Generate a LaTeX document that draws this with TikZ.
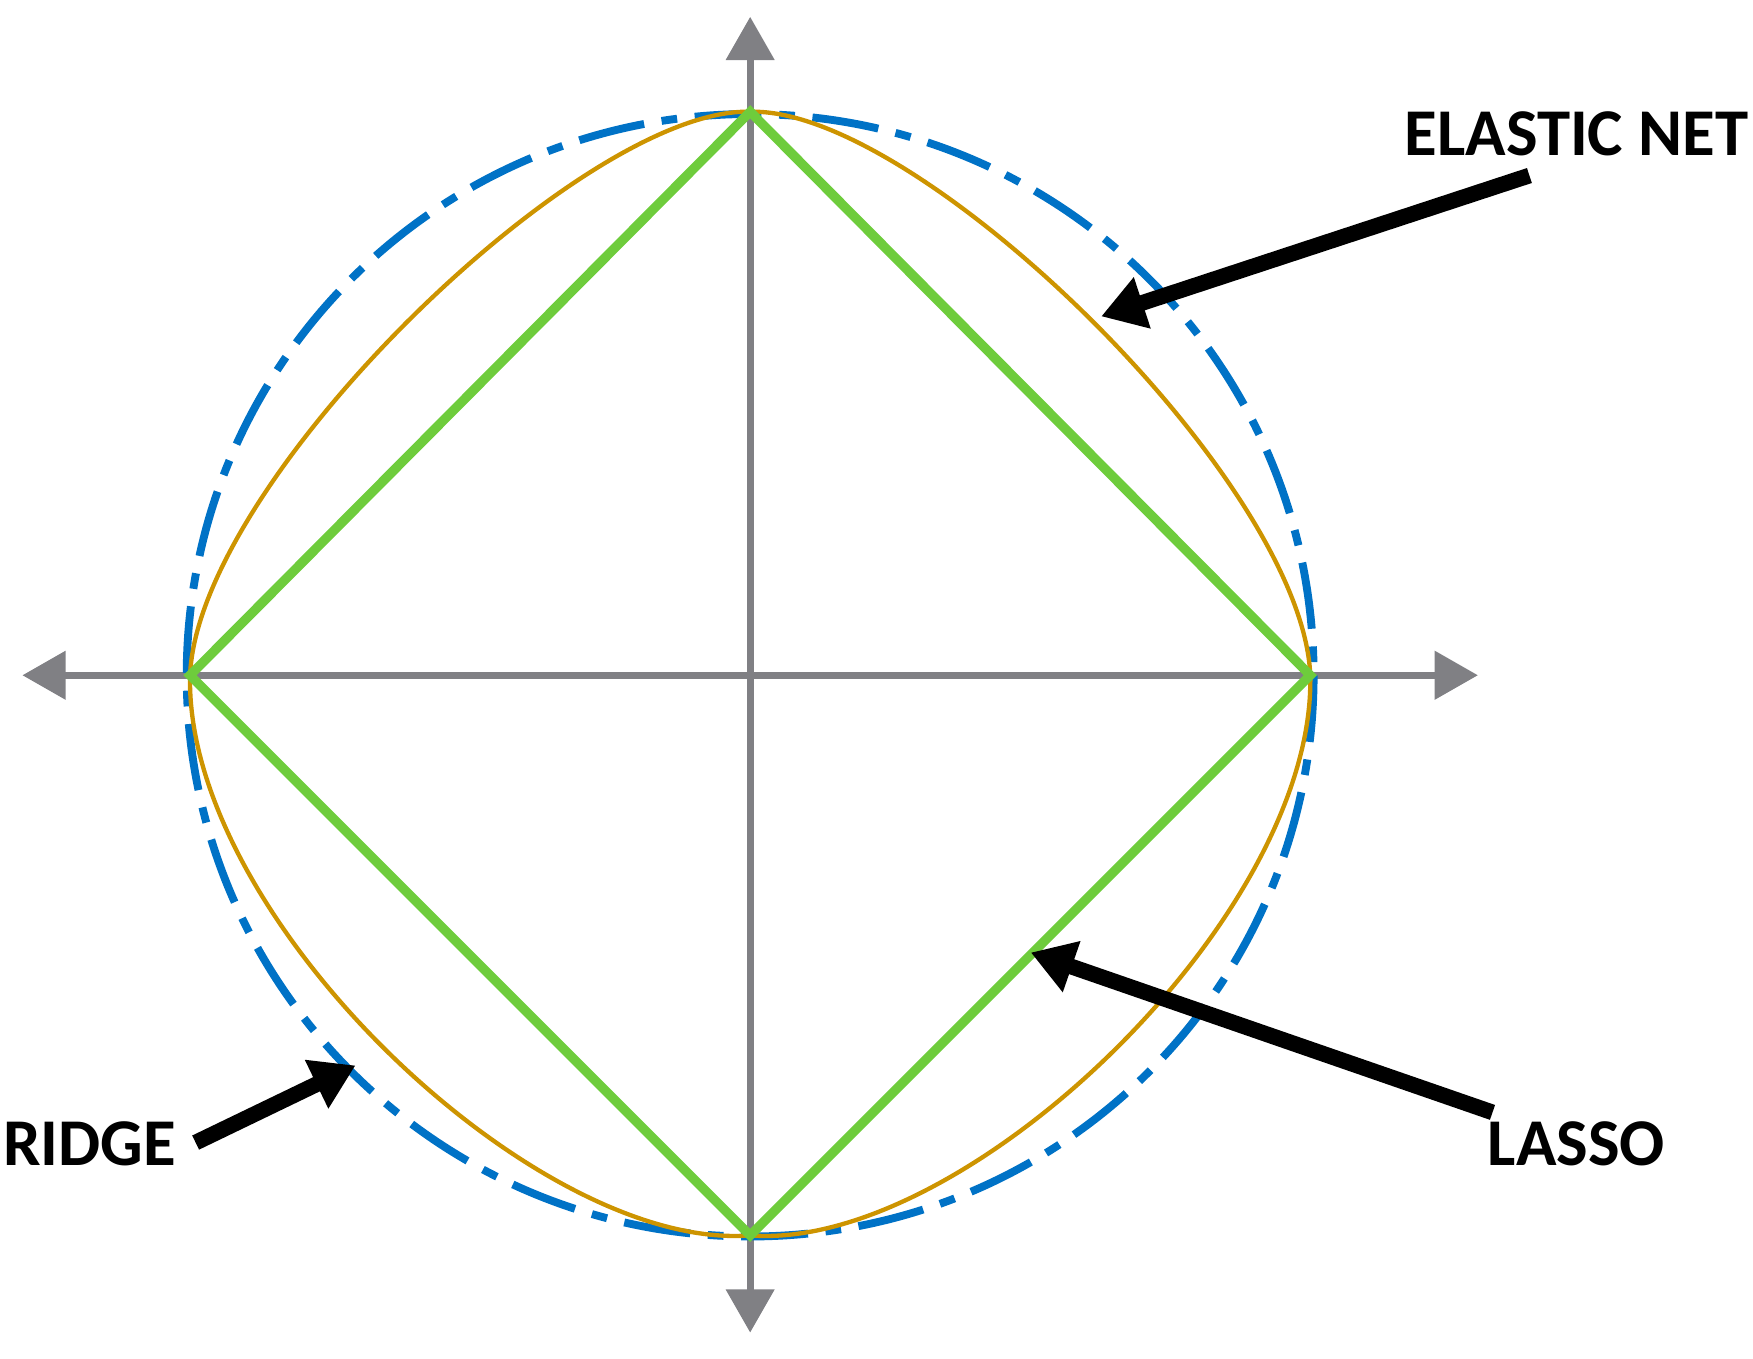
\documentclass[tikz,border=0pt]{standalone}
\usepackage{fontspec}
\setmainfont{Carlito}
\usetikzlibrary{arrows.meta}
\definecolor{axgray}{RGB}{128,128,132}
\definecolor{ridgeblue}{RGB}{0,114,198}
\definecolor{lassogreen}{RGB}{110,204,60}
\definecolor{enorange}{RGB}{205,148,0}
\tikzset{
 axis/.style={axgray,line width=1.8pt,-{Triangle[length=11pt,width=12pt]}},
 ridgeline/.style={ridgeblue,line width=2pt,dash pattern=on 17pt off 4.5pt on 4pt off 4.5pt},
 lassoline/.style={lassogreen,line width=2.4pt,line join=miter},
 enline/.style={enorange,line width=1.1pt},
 pointer/.style={black,line width=4pt,-{Triangle[length=11pt,width=13pt]}},
 lbl/.style={font=\bfseries\fontsize{17pt}{20pt}\selectfont,inner sep=0pt}
}
\begin{document}
\begin{tikzpicture}[x=0.01cm,y=-0.01cm]
\useasboundingbox (0,0) rectangle (1568,1215);
\coordinate (O) at (671,604);
\coordinate (T) at (671,100);
\coordinate (R) at (1172,604);
\coordinate (B) at (671,1105);
\coordinate (L) at (170,604);
\coordinate (xa) at (20,604);
\coordinate (xb) at (1322,604);
\coordinate (ya) at (671,1192);
\coordinate (yb) at (671,15);
\draw[axis] (O) -- (xa);
\draw[axis] (O) -- (xb);
\draw[axis] (O) -- (ya);
\draw[axis] (O) -- (yb);
% ridge
\draw[ridgeline] (O) ellipse [x radius=504, y radius=502];
% elastic net
\draw[enline] (T) -- (R) -- (B) -- (L) -- cycle;
\draw[enline] (T) .. controls (820,95) and (1165,430) .. (R);
\draw[enline] (T) .. controls (522,95) and (177,430) .. (L);
\draw[enline] (B) .. controls (480,1120) and (165,820) .. (L);
\draw[enline] (B) .. controls (862,1120) and (1177,820) .. (R);
% lasso
\draw[lassoline] (T) -- (R) -- (B) -- (L) -- cycle;
% labels and pointers
\node[lbl] (en) at (1410,120) {ELASTIC NET};
\node[lbl] (la) at (1410,1023) {LASSO};
\node[lbl] (ri) at (80,1023) {RIDGE};
\coordinate (ens) at (1368,157);
\coordinate (ent) at (985,283);
\coordinate (las) at (1335,995);
\coordinate (lat) at (922,852);
\coordinate (ris) at (175,1022);
\coordinate (rit) at (318,953);
\draw[pointer] (ens) -- (ent);
\draw[pointer] (las) -- (lat);
\draw[pointer] (ris) -- (rit);
\end{tikzpicture}
\end{document}
